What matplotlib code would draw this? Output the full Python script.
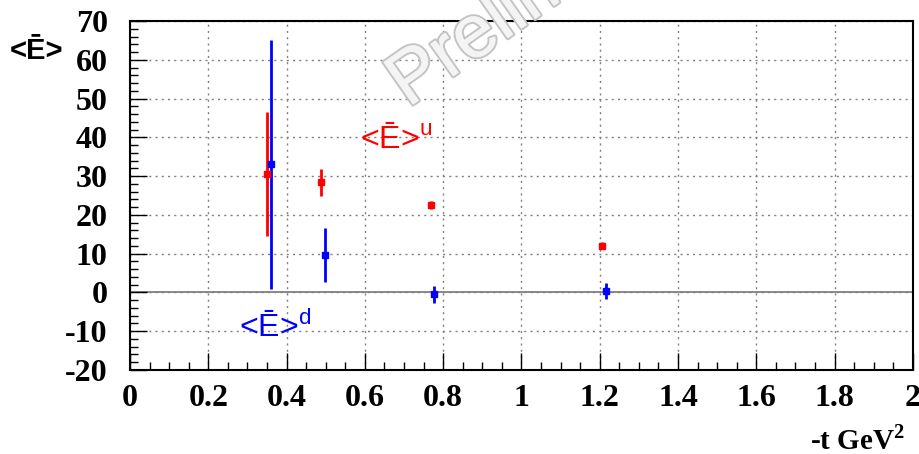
import matplotlib
matplotlib.use("Agg")
import matplotlib.pyplot as plt
import matplotlib.patheffects as pe
from matplotlib.ticker import MultipleLocator

plt.rcParams["axes.unicode_minus"] = False

# -t values and <E> moments for up and down quarks
t_u = [0.349, 0.488, 0.768, 1.206]
E_u = [30.5, 28.4, 22.6, 12.1]
err_u = [16.0, 3.5, 1.0, 0.8]

t_d = [0.359, 0.499, 0.777, 1.217]
E_d = [33.0, 9.7, -0.5, 0.4]
err_d = [32.0, 6.9, 2.2, 2.0]

x_ticks = [0, 0.2, 0.4, 0.6, 0.8, 1.0, 1.2, 1.4, 1.6, 1.8, 2.0]
x_tick_labels = ["0", "0.2", "0.4", "0.6", "0.8", "1", "1.2", "1.4", "1.6", "1.8", "2"]
y_ticks = [-20, -10, 0, 10, 20, 30, 40, 50, 60, 70]

RED = "#ff0000"
BLUE = "#0000ff"
serif_bold = dict(family="Liberation Serif", weight="bold")

fig = plt.figure(figsize=(9.2, 4.54), dpi=100)

# watermark behind the axes
fig.text(408 / 920, 1 - 108 / 454, "Preliminary", rotation=35, fontsize=54,
         family="Liberation Sans", color="#f4f4f4", ha="left", va="baseline",
         rotation_mode="anchor", zorder=0,
         path_effects=[pe.withStroke(linewidth=3, foreground="#c4c4c4"),
                       pe.Normal()])

ax = fig.add_axes([0.1413, 0.185, 0.851, 0.7687])
ax.patch.set_alpha(0)

ax.set_xlim(0, 2)
ax.set_ylim(-20, 70)

# grid and zero line
ax.grid(True, which="major", linestyle=(0, (1.5, 3)), color="#808080", linewidth=1.0)
ax.axhline(0, color="#808080", linewidth=1.3, zorder=1)

ax.errorbar(t_u, E_u, yerr=err_u, fmt="s", color=RED, markersize=5,
            elinewidth=2, capsize=0, zorder=3)
ax.errorbar(t_d, E_d, yerr=err_d, fmt="s", color=BLUE, markersize=5,
            elinewidth=2, capsize=0, zorder=3)

ax.text(0.68, 39.4, "<Ē>$^\\mathregular{u}$", color=RED, fontsize=23,
        family="Liberation Sans", ha="center", va="center")
ax.text(0.37, -9.0, "<Ē>$^\\mathregular{d}$", color=BLUE, fontsize=23,
        family="Liberation Sans", ha="center", va="center")

# ticks
ax.set_xticks(x_ticks)
ax.set_xticklabels(x_tick_labels)
ax.set_yticks(y_ticks)
ax.xaxis.set_minor_locator(MultipleLocator(0.05))
ax.yaxis.set_minor_locator(MultipleLocator(2))
ax.tick_params(which="both", direction="in", top=False, right=False)
ax.tick_params(which="major", length=12, width=1.0)
ax.tick_params(which="minor", length=6, width=1.0)
ax.tick_params(axis="x", which="major", pad=10)
ax.tick_params(axis="y", which="major", pad=16)
for lab in ax.get_xticklabels() + ax.get_yticklabels():
    lab.set_fontfamily("Liberation Serif")
    lab.set_fontweight("bold")
    lab.set_fontsize(23)
for sp in ax.spines.values():
    sp.set_linewidth(1.5)

# axis titles
fig.text(905 / 920, 1 - 440 / 454, "-t GeV$^\\mathregular{2}$", ha="right", va="center",
         fontsize=21, **serif_bold)
fig.text(37 / 920, 1 - 51 / 454, "<Ē>", ha="center", va="center",
         fontsize=21, family="Liberation Sans", weight="bold")

fig.savefig("out.png", dpi=100)
